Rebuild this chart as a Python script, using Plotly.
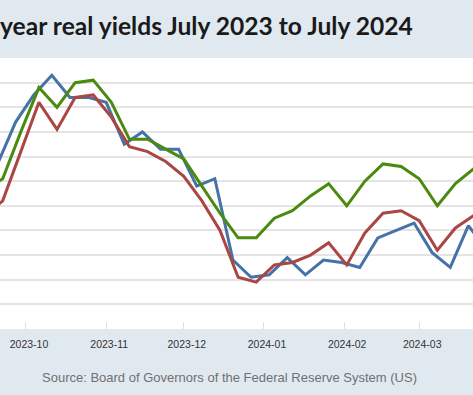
import plotly.graph_objects as go

# Weekly observations (blue: weeks ending Wednesday; red/green: weeks ending Friday)
blue_dates = ["2023-09-13", "2023-09-20", "2023-09-27", "2023-10-04", "2023-10-11", "2023-10-18",
              "2023-10-25", "2023-11-01", "2023-11-08", "2023-11-15", "2023-11-22", "2023-11-29",
              "2023-12-06", "2023-12-13", "2023-12-20", "2023-12-27", "2024-01-03", "2024-01-10",
              "2024-01-17", "2024-01-24", "2024-01-31", "2024-02-07", "2024-02-14", "2024-02-21",
              "2024-02-28", "2024-03-06", "2024-03-13", "2024-03-20", "2024-03-27"]
blue_vals = [2.02, 2.07, 2.24, 2.35, 2.43, 2.34, 2.34, 2.32, 2.15, 2.20, 2.13, 2.13,
             1.98, 2.01, 1.68, 1.61, 1.62, 1.69, 1.62, 1.68, 1.67, 1.65, 1.77, 1.80,
             1.83, 1.71, 1.65, 1.82, 1.72]

fri_dates = ["2023-09-15", "2023-09-22", "2023-09-29", "2023-10-06", "2023-10-13", "2023-10-20",
             "2023-10-27", "2023-11-03", "2023-11-10", "2023-11-17", "2023-11-24", "2023-12-01",
             "2023-12-08", "2023-12-15", "2023-12-22", "2023-12-29", "2024-01-05", "2024-01-12",
             "2024-01-19", "2024-01-26", "2024-02-02", "2024-02-09", "2024-02-16", "2024-02-23",
             "2024-03-01", "2024-03-08", "2024-03-15", "2024-03-22", "2024-03-29"]
red_vals = [1.86, 1.92, 2.12, 2.32, 2.21, 2.34, 2.35, 2.26, 2.14, 2.12, 2.08, 2.02,
            1.92, 1.80, 1.61, 1.59, 1.66, 1.67, 1.70, 1.75, 1.66, 1.79, 1.87, 1.88,
            1.84, 1.72, 1.81, 1.86, 1.88]
green_vals = [1.96, 2.01, 2.20, 2.38, 2.30, 2.40, 2.41, 2.32, 2.17, 2.17, 2.13, 2.09,
              1.98, 1.87, 1.77, 1.77, 1.85, 1.88, 1.94, 1.99, 1.90, 2.00, 2.07, 2.06,
              2.01, 1.90, 1.99, 2.05, 2.08]

title_text = "year real yields July 2023 to July 2024"
source_text = "Source: Board of Governors of the Federal Reserve System (US)"

BG = "#e1e9f0"
W, H = 473, 395

fig = go.Figure()
fig.add_trace(go.Scatter(x=blue_dates, y=blue_vals, mode="lines",
                         line=dict(color="#4572a7", width=3), name="blue"))
fig.add_trace(go.Scatter(x=fri_dates, y=red_vals, mode="lines",
                         line=dict(color="#aa4643", width=3), name="red"))
fig.add_trace(go.Scatter(x=fri_dates, y=green_vals, mode="lines",
                         line=dict(color="#4a8a0f", width=3), name="green"))

fig.update_layout(
    width=W, height=H, autosize=False,
    margin=dict(l=0, r=0, t=58, b=66, pad=0),
    paper_bgcolor=BG, plot_bgcolor="#ffffff",
    showlegend=False, hovermode=False,
    font=dict(family="Liberation Sans, Arial, sans-serif", color="#333333"),
)
fig.update_xaxes(
    range=["2023-09-20 23:00", "2024-03-21 19:00"],
    type="date", dtick="M1", tick0="2023-10-01", tickformat="%Y-%m",
    showgrid=False, zeroline=False, showline=False,
    ticks="inside", ticklen=7, tickcolor="#dedede", tickwidth=1,
    tickfont=dict(size=10.5, color="#333333"),
    ticklabelstandoff=7, ticklabelshift=3,
)
fig.update_yaxes(
    range=[1.4, 2.5], dtick=0.1, tick0=1.4,
    showgrid=True, gridcolor="#e4e4e4", gridwidth=1.5,
    zeroline=False, showline=False, showticklabels=False,
)
fig.add_annotation(text=title_text, xref="paper", yref="paper",
                   x=415 / W, y=1, yshift=33, xanchor="right", yanchor="middle",
                   showarrow=False,
                   font=dict(family="Lato, Liberation Sans, sans-serif", size=24.6, color="#1a1a1a", weight="bold"))
fig.add_annotation(text=source_text, xref="paper", yref="paper",
                   x=229 / W, y=0, yshift=-48, xanchor="center", yanchor="middle",
                   showarrow=False,
                   font=dict(family="Liberation Sans, Arial, sans-serif", size=13, color="#707070"))

post = ("document.body.style.margin='0';document.body.style.padding='0';"
        "document.body.style.overflow='hidden';"
        "var gd=document.getElementById('{plot_id}');"
        "Plotly.relayout(gd,{width:%d,height:%d});" % (W, H))

fig.write_html("out.html", config={"responsive": False, "displayModeBar": False},
               post_script=post)
